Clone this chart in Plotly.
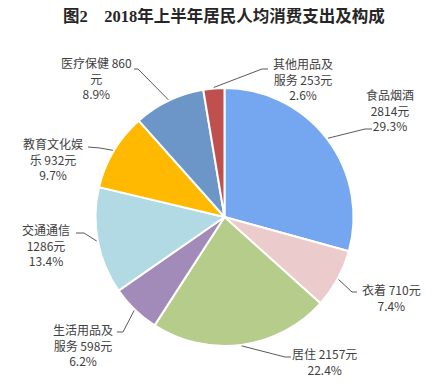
import math
import plotly.graph_objects as go

# ---- data ----
categories = ["食品烟酒", "衣着", "居住", "生活用品及服务", "交通通信", "教育文化娱乐", "医疗保健", "其他用品及服务"]
values = [2814, 710, 2157, 598, 1286, 932, 860, 253]
percent_labels = ["29.3%", "7.4%", "22.4%", "6.2%", "13.4%", "9.7%", "8.9%", "2.6%"]
label_texts = [
    "食品烟酒<br>2814元<br>29.3%",
    "衣着 710元<br>7.4%",
    "居住 2157元<br>22.4%",
    "生活用品及<br>服务 598元<br>6.2%",
    "交通通信<br>1286元<br>13.4%",
    "教育文化娱<br>乐 932元<br>9.7%",
    "医疗保健 860<br>元<br>8.9%",
    "其他用品及<br>服务 253元<br>2.6%",
]
colors = ["#75A6F0", "#EBCBCB", "#B6CC8A", "#A28BB9", "#B2DAE4", "#FFB901", "#6C96C8", "#C0504D"]
title_text = "图2　2018年上半年居民人均消费支出及构成"

# ---- layout (window pixels; page has an 8px body margin) ----
OFF = 8
W, H = 444 - OFF, 391 - OFF
CX, CY, R = 224.5, 217, 129
label_pos = [(390, 110), (391, 297), (324, 361), (83, 345), (46, 245), (53, 159), (96, 78), (303, 79)]
elbows = [[(365, 129), (372, 129)],
          [(352, 292), (357, 292)],
          [(285, 357), (291, 357)],
          [(123, 332), (117, 332)],
          [(84, 233), (76, 233)],
          [(100, 148), (88, 147)],
          [(138, 69), (134, 69)],
          [(262, 69), (268, 69)]]

def px(x):
    return (x - OFF) / W

def py(y):
    return 1 - (y - OFF) / H

fig = go.Figure(go.Pie(
    labels=categories, values=values, sort=False, direction="clockwise", rotation=0,
    marker=dict(colors=colors, line=dict(color="white", width=2)),
    textinfo="none", hoverinfo="label+value+percent", showlegend=False,
    domain=dict(x=[px(CX - R), px(CX + R)], y=[py(CY + R), py(CY - R)]),
))

total = sum(values)
cum = 0
shapes = []
annotations = []
for i, v in enumerate(values):
    mid = (cum + v / 2) / total * 2 * math.pi
    cum += v
    sx = CX + (R + 1) * math.sin(mid)
    sy = CY - (R + 1) * math.cos(mid)
    pts = [(sx, sy)] + elbows[i]
    path = "M " + " L ".join(f"{px(x):.5f},{py(y):.5f}" for x, y in pts)
    shapes.append(dict(type="path", xref="paper", yref="paper", path=path,
                       line=dict(color="#595959", width=1)))
    lx, ly = label_pos[i]
    annotations.append(dict(x=px(lx), y=py(ly), xref="paper", yref="paper", text=label_texts[i],
                            showarrow=False, xanchor="center", yanchor="middle", align="center",
                            font=dict(size=12, color="#404040", family="Noto Sans CJK SC")))

annotations.append(dict(x=px(224), y=py(16), xref="paper", yref="paper", text="<b>" + title_text + "</b>",
                        showarrow=False, xanchor="center", yanchor="middle",
                        font=dict(size=16.5, color="#262626", family="Liberation Serif, Noto Sans CJK SC")))

fig.update_layout(width=W, height=H, margin=dict(l=0, r=0, t=0, b=0),
                  paper_bgcolor="white", plot_bgcolor="white",
                  shapes=shapes, annotations=annotations)
fig.write_html("out.html")
